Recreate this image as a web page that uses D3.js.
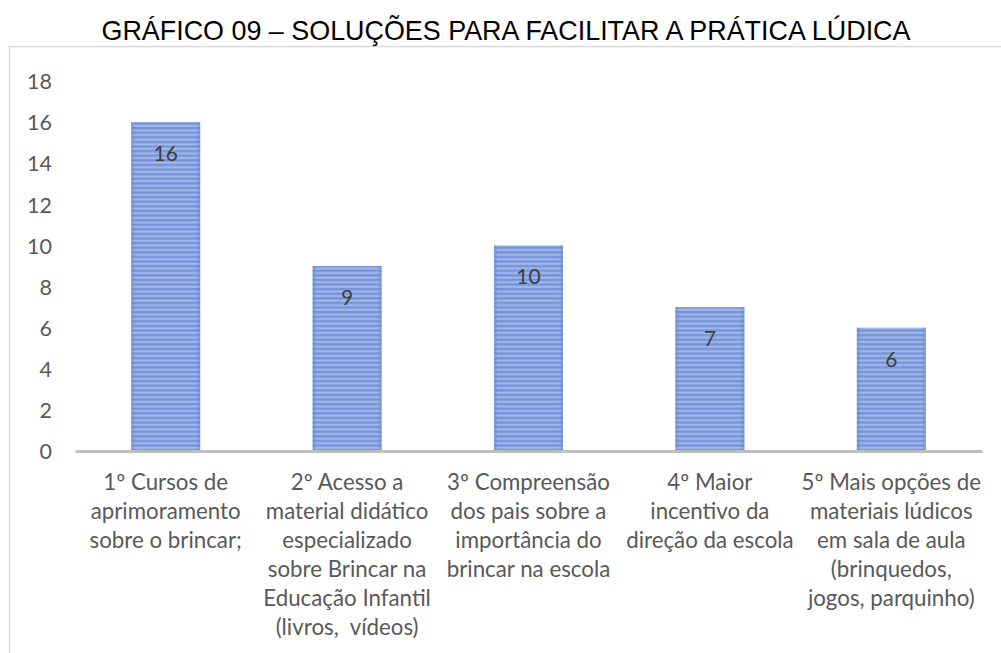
<!DOCTYPE html>
<html lang="pt">
<head>
  <meta charset="UTF-8">
  <title>Gráfico 09</title>
  <script src="https://d3js.org/d3.v7.min.js"></script>
  <style>
    body { margin: 0; padding: 0; background: #fff; }
    svg { display: block; }
    .cat tspan { white-space: pre; }
  </style>
</head>
<body>
  <div id="chart"></div>
  <script>
    // dados do gráfico
    const categorias = [
      ["1º Cursos de", "aprimoramento", "sobre o brincar;"],
      ["2º Acesso a", "material didático", "especializado", "sobre Brincar na", "Educação Infantil", "(livros,  vídeos)"],
      ["3º Compreensão", "dos pais sobre a", "importância do", "brincar na escola"],
      ["4º Maior", "incentivo da", "direção da escola"],
      ["5º Mais opções de", "materiais lúdicos", "em sala de aula", "(brinquedos,", "jogos, parquinho)"]
    ];
    const valores = [16, 9, 10, 7, 6];
    const ticksY = [0, 2, 4, 6, 8, 10, 12, 14, 16, 18];
    const titulo = "GRÁFICO 09 – SOLUÇÕES PARA FACILITAR A PRÁTICA LÚDICA";

    const width = 1001, height = 653;
    const margin = { left: 75, right: 19, top: 80, bottom: 202 };

    const svg = d3.select('#chart').append('svg')
      .attr('width', width)
      .attr('height', height);

    // padrão listrado das barras
    const defs = svg.append('defs');
    const pat = defs.append('pattern')
      .attr('id', 'listras')
      .attr('patternUnits', 'userSpaceOnUse')
      .attr('width', 10).attr('height', 4.6);
    pat.append('rect').attr('width', 10).attr('height', 4.6).attr('fill', '#7895da');
    pat.append('rect').attr('y', 0.6).attr('width', 10).attr('height', 2).attr('fill', '#a3b9ea');

    const bordas = defs.append('linearGradient').attr('id', 'bordas');
    bordas.append('stop').attr('offset', '0%').attr('stop-color', '#5b7fcf').attr('stop-opacity', 0.5);
    bordas.append('stop').attr('offset', '6%').attr('stop-color', '#5b7fcf').attr('stop-opacity', 0);
    bordas.append('stop').attr('offset', '94%').attr('stop-color', '#5b7fcf').attr('stop-opacity', 0);
    bordas.append('stop').attr('offset', '100%').attr('stop-color', '#5b7fcf').attr('stop-opacity', 0.5);

    // moldura
    svg.append('path')
      .attr('d', `M${width},46.5 H9.5 V${height}`)
      .attr('fill', 'none')
      .attr('stroke', '#d9d9d9')
      .attr('stroke-width', 1.5);

    // título
    svg.append('text')
      .attr('x', 506)
      .attr('y', 40)
      .attr('text-anchor', 'middle')
      .attr('font-family', 'Liberation Sans, Arial, sans-serif')
      .attr('font-size', 26.9)
      .attr('fill', '#000')
      .text(titulo);

    const x = d3.scaleBand()
      .domain(d3.range(valores.length))
      .range([margin.left, width - margin.right])
      .paddingInner(0.62)
      .paddingOuter(0.31);

    const y = d3.scaleLinear()
      .domain([0, 18])
      .range([height - margin.bottom, margin.top + 1]);

    const fonte = 'Lato, Carlito, Calibri, sans-serif';

    // eixo y (apenas rótulos)
    const eixoY = svg.append('g')
      .attr('transform', `translate(${margin.left - 23},0)`)
      .call(d3.axisLeft(y).tickValues(ticksY).tickSize(0).tickPadding(0));
    eixoY.select('.domain').remove();
    eixoY.selectAll('text')
      .attr('font-family', fonte)
      .attr('font-size', 21.5)
      .attr('fill', '#595959')
      .attr('dy', '0.36em');

    // barras
    const barras = svg.append('g');
    barras.selectAll('rect.barra')
      .data(valores)
      .join('rect')
      .attr('class', 'barra')
      .attr('x', (d, i) => x(i))
      .attr('y', d => y(d))
      .attr('width', x.bandwidth())
      .attr('height', d => y(0) - y(d))
      .attr('fill', 'url(#listras)');
    barras.selectAll('rect.borda')
      .data(valores)
      .join('rect')
      .attr('class', 'borda')
      .attr('x', (d, i) => x(i))
      .attr('y', d => y(d))
      .attr('width', x.bandwidth())
      .attr('height', d => y(0) - y(d))
      .attr('fill', 'url(#bordas)');

    // rótulos de dados
    svg.append('g').selectAll('text')
      .data(valores)
      .join('text')
      .attr('x', (d, i) => x(i) + x.bandwidth() / 2)
      .attr('y', d => y(d) + 39)
      .attr('text-anchor', 'middle')
      .attr('font-family', fonte)
      .attr('font-size', 21)
      .attr('fill', '#404040')
      .text(d => d);

    // eixo x
    const eixoX = svg.append('g')
      .attr('transform', `translate(0,${y(0)})`)
      .call(d3.axisBottom(x).tickSize(0).tickFormat(''));
    eixoX.select('.domain')
      .attr('stroke', '#bfbfbf')
      .attr('stroke-width', 3);

    // rótulos das categorias
    const rotulos = svg.append('g').selectAll('text')
      .data(categorias)
      .join('text')
      .attr('class', 'cat')
      .attr('x', (d, i) => x(i) + x.bandwidth() / 2)
      .attr('y', 490)
      .attr('text-anchor', 'middle')
      .attr('font-family', fonte)
      .attr('font-size', 22.3)
      .attr('fill', '#595959');
    rotulos.selectAll('tspan')
      .data(d => d)
      .join('tspan')
      .attr('x', function () { return d3.select(this.parentNode).attr('x'); })
      .attr('dy', (d, i) => i === 0 ? 0 : 29)
      .text(d => d);
  </script>
</body>
</html>
